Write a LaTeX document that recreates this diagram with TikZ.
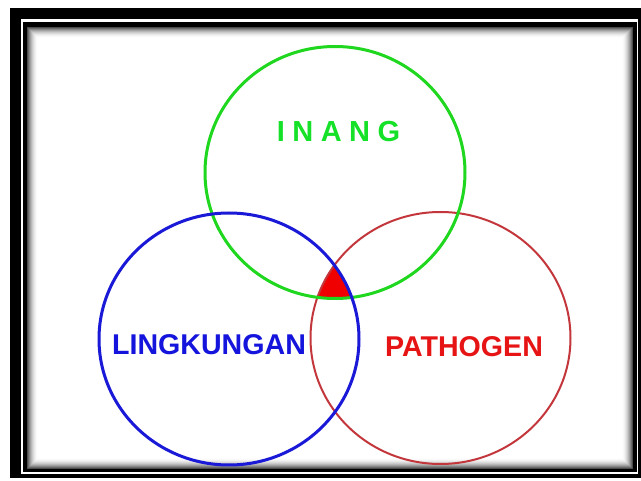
\documentclass[tikz,border=0pt]{standalone}
\usepackage{fontspec}
\setmainfont{Liberation Sans}
\definecolor{inangc}{RGB}{20,225,40}
\definecolor{greenline}{RGB}{30,215,30}
\definecolor{blueline}{RGB}{25,25,215}
\definecolor{bluetext}{RGB}{20,20,220}
\definecolor{redline}{RGB}{195,55,60}
\definecolor{redtext}{RGB}{230,20,20}
\definecolor{fillred}{RGB}{240,0,0}
\begin{document}
\begin{tikzpicture}[x=1pt,y=-1pt,
  lbl/.style={anchor=base,inner sep=0pt,font=\bfseries\fontsize{28.6}{30}\selectfont},
  venn/.style={x radius=130pt,y radius=126pt}]
\useasboundingbox (0,0) rectangle (641,481);
% frame
\fill[black] (10,8) rectangle (641,478);
\fill[white] (21,19) rectangle (638,474);
\fill[black] (23,22) rectangle (637,472);
\fill[white] (27,27) rectangle (633,469);
\foreach \i in {0,...,10}{
  \pgfmathsetmacro\s{70*(1-\i/11)^2}
  \draw[line width=1pt,black!\s] (27.5+\i,27.5+\i) rectangle (632.5-\i,468.5-\i);
}
% common intersection
\begin{scope}
  \clip (335,172.5) ellipse [venn];
  \clip (229,339) ellipse [venn];
  \fill[fillred] (440.5,338) ellipse [venn];
\end{scope}
% circles
\draw[redline,line width=2pt] (440.5,338) ellipse [venn];
\draw[greenline,line width=3pt] (335,172.5) ellipse [venn];
\draw[blueline,line width=3pt] (229,339) ellipse [venn];
% labels
\node[lbl,text=inangc,font=\bfseries\fontsize{29}{31}\selectfont] (inang) at (338.5,141.5)
  {I\kern7.5pt N\kern7.5pt A\kern7.5pt N\kern7.5pt G};
\node[lbl,text=bluetext] (lingkungan) at (209,355) {LINGKUNGAN};
\node[lbl,text=redtext] (pathogen) at (464,357) {PATHOGEN};
\end{tikzpicture}
\end{document}
